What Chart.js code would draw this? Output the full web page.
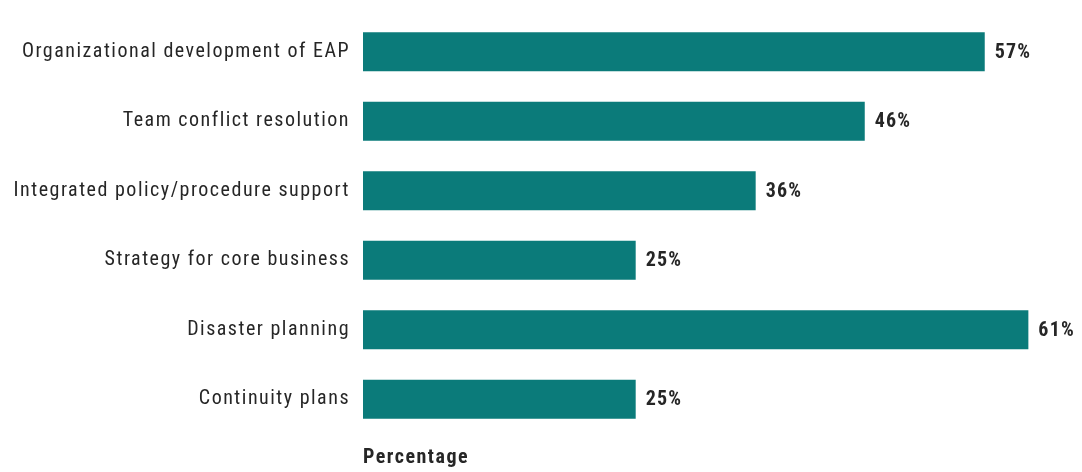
<!DOCTYPE html>
<html>
<head>
<meta charset="utf-8">
<script src="https://cdn.jsdelivr.net/npm/chart.js@4"></script>
<style>
  html, body { margin: 0; padding: 0; background: #ffffff; }
  #wrap { width: 1082px; height: 472px; }
</style>
</head>
<body>
<div id="wrap"><canvas id="chart" width="1082" height="472"></canvas></div>
<script>
// Survey results: share of respondents per service area
const categories = [
  'Organizational development of EAP',
  'Team conflict resolution',
  'Integrated policy/procedure support',
  'Strategy for core business',
  'Disaster planning',
  'Continuity plans'
];
const percentages = [57, 46, 36, 25, 61, 25];
const axisTitle = 'Percentage';

const FONT = "'Roboto Condensed', 'Liberation Sans Narrow', 'DejaVu Sans Condensed', 'Arial Narrow', sans-serif";
const TEAL = '#0b7b7a';
const INK = '#262626';

// Slightly open tracking for all chart text
const tracking = {
  id: 'tracking',
  beforeDraw(chart) {
    chart.ctx.letterSpacing = '1.5px';
  }
};

// Writes each bar's value just past its end
const valueLabels = {
  id: 'valueLabels',
  afterDatasetsDraw(chart) {
    const { ctx } = chart;
    const meta = chart.getDatasetMeta(0);
    ctx.save();
    ctx.letterSpacing = '1.2px';
    ctx.font = 'bold 20px ' + FONT;
    ctx.fillStyle = INK;
    ctx.textAlign = 'left';
    ctx.textBaseline = 'middle';
    meta.data.forEach((bar, i) => {
      ctx.fillText(chart.data.datasets[0].data[i] + '%', bar.x + 10, bar.y + 1);
    });
    ctx.restore();
  }
};

new Chart(document.getElementById('chart'), {
  type: 'bar',
  data: {
    labels: categories,
    datasets: [{
      data: percentages,
      backgroundColor: TEAL,
      borderWidth: 0,
      barPercentage: 0.56,
      categoryPercentage: 1.0
    }]
  },
  options: {
    indexAxis: 'y',
    responsive: false,
    animation: false,
    layout: { padding: { top: 17, right: 10, bottom: 0, left: 0 } },
    plugins: {
      legend: { display: false },
      tooltip: { enabled: false }
    },
    scales: {
      x: {
        min: 0,
        max: 65,
        grid: { display: false },
        border: { display: false },
        ticks: { display: false },
        title: {
          display: true,
          text: axisTitle,
          align: 'start',
          color: INK,
          font: { family: FONT, size: 20, weight: 'bold' },
          padding: { top: 13, bottom: 2 }
        },
        afterFit(scale) { scale.height = 38; }
      },
      y: {
        grid: { display: false },
        border: { display: false },
        ticks: {
          color: INK,
          padding: 5,
          font: { family: FONT, size: 20 }
        },
        afterFit(scale) { scale.width = 363; }
      }
    }
  },
  plugins: [tracking, valueLabels]
});
</script>
</body>
</html>
